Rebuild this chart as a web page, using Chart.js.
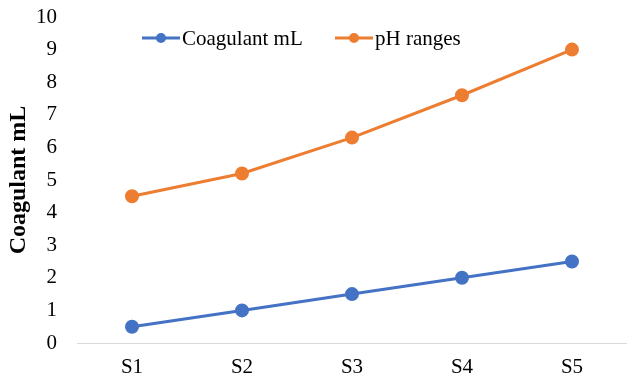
<!DOCTYPE html>
<html>
<head>
<meta charset="utf-8">
<script src="https://cdn.jsdelivr.net/npm/chart.js@4/dist/chart.umd.min.js"></script>
<style>
html,body{margin:0;padding:0;background:#fff;}
#wrap{width:627px;height:381px;position:relative;}
</style>
</head>
<body>
<div id="wrap"><canvas id="c" width="627" height="381"></canvas></div>
<script>
const categories = ['S1', 'S2', 'S3', 'S4', 'S5'];
const coagulant = [0.5, 1, 1.5, 2, 2.5];
const phRanges = [4.5, 5.2, 6.3, 7.6, 9.0];
const yTicks = [0, 1, 2, 3, 4, 5, 6, 7, 8, 9, 10];
const seriesNames = ['Coagulant mL', 'pH ranges'];
const colors = ['#4472C4', '#ED7D31'];
const FONT = "'Liberation Serif', 'Times New Roman', serif";

const legendPlugin = {
  id: 'customLegend',
  afterDraw(chart) {
    const ctx = chart.ctx;
    const ca = chart.chartArea;
    const y = ca.top + 21;
    const starts = [ca.left + 65, ca.left + 258];
    ctx.save();
    ctx.font = '21px ' + FONT;
    ctx.textBaseline = 'middle';
    chart.data.datasets.forEach((ds, i) => {
      const x = starts[i];
      ctx.strokeStyle = ds.borderColor;
      ctx.lineWidth = 3;
      ctx.beginPath();
      ctx.moveTo(x, y);
      ctx.lineTo(x + 38, y);
      ctx.stroke();
      ctx.fillStyle = ds.borderColor;
      ctx.beginPath();
      ctx.arc(x + 19, y, 5, 0, Math.PI * 2);
      ctx.fill();
      ctx.fillStyle = '#000';
      ctx.textAlign = 'left';
      ctx.fillText(ds.label, x + 40, y + 1);
    });
    ctx.restore();
  }
};

new Chart(document.getElementById('c'), {
  type: 'line',
  data: {
    labels: categories,
    datasets: [
      { label: seriesNames[0], data: coagulant, borderColor: colors[0], backgroundColor: colors[0],
        borderWidth: 3, pointRadius: 5.5, pointHoverRadius: 5.5, tension: 0, clip: false },
      { label: seriesNames[1], data: phRanges, borderColor: colors[1], backgroundColor: colors[1],
        borderWidth: 3, pointRadius: 5.5, pointHoverRadius: 5.5, tension: 0, clip: false }
    ]
  },
  options: {
    responsive: false,
    animation: false,
    events: [],
    layout: { autoPadding: false, padding: { top: 17, right: 0, left: 0, bottom: 0 } },
    plugins: { legend: { display: false }, tooltip: { enabled: false } },
    scales: {
      x: {
        offset: true,
        afterFit(scale) { scale.height = 38; scale.paddingLeft = 0; scale.paddingRight = 0; },
        grid: { display: false, drawTicks: false },
        border: { display: true, color: '#D9D9D9', width: 1 },
        ticks: { color: '#000', font: { family: FONT, size: 21 }, padding: 12 }
      },
      y: {
        min: 0, max: 10,
        afterBuildTicks(scale) { scale.ticks = yTicks.map(v => ({ value: v })); },
        afterFit(scale) { scale.width = 77; scale.paddingTop = 0; scale.paddingBottom = 0; },
        grid: { display: false, drawTicks: false },
        border: { display: false },
        ticks: { color: '#000', font: { family: FONT, size: 21 }, padding: 20 },
        title: { display: true, text: 'Coagulant mL', color: '#000',
          font: { family: FONT, size: 24, weight: 'bold' }, padding: { top: 4, bottom: 0 } }
      }
    }
  },
  plugins: [legendPlugin]
});
</script>
</body>
</html>
